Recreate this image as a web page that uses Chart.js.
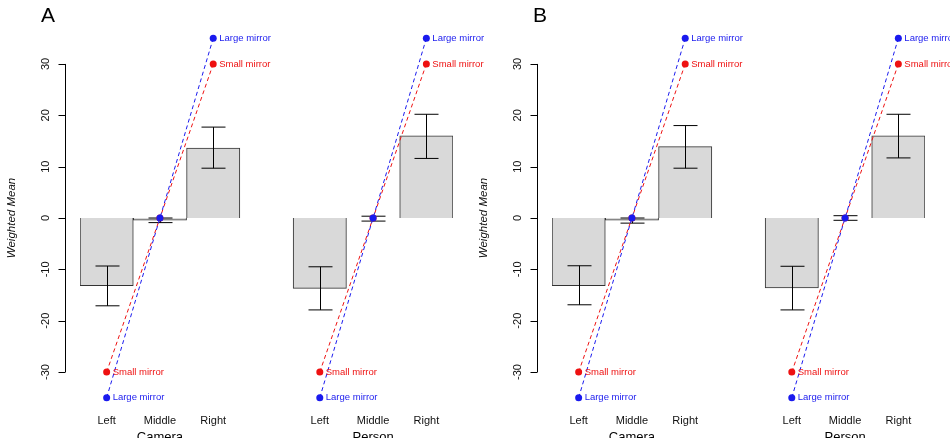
<!DOCTYPE html>
<html>
<head>
<meta charset="utf-8">
<script src="https://cdn.jsdelivr.net/npm/chart.js@4"></script>
<style>
  html, body { margin: 0; padding: 0; background: #fff; }
  #wrap { position: relative; width: 950px; height: 438px; overflow: hidden; }
  .panel { position: absolute; top: 0; height: 438px; }
</style>
</head>
<body>
<div id="wrap">
  <div class="panel" style="left:0;width:500px"><canvas id="chartA" width="500" height="438"></canvas></div>
  <div class="panel" style="left:472px;width:478px"><canvas id="chartB" width="478" height="438"></canvas></div>
</div>
<script>
// data
const categories = ['Left', 'Middle', 'Right'];
const groups = ['Camera', 'Person'];
const yTicks = [-30, -20, -10, 0, 10, 20, 30];

const largeMirror = [-35, 0, 35];
const smallMirror = [-30, 0, 30];

// panel A
const camMeanA = [-13.2, -0.4, 13.6];
const camLowA = [-17.1, -0.9, 9.7];
const camHighA = [-9.35, 0.0, 17.7];
const perMeanA = [-13.7, 0.0, 16.0];
const perLowA = [-17.9, -0.6, 11.6];
const perHighA = [-9.5, 0.35, 20.2];

// panel B
const camMeanB = [-13.2, -0.4, 13.9];
const camLowB = [-16.9, -1.0, 9.7];
const camHighB = [-9.3, 0.0, 18.0];
const perMeanB = [-13.6, 0.0, 16.0];
const perLowB = [-17.9, -0.45, 11.7];
const perHighB = [-9.4, 0.45, 20.2];

const join = (a, b) => [...a, null, ...b];
const font = 'Liberation Sans, Arial, Helvetica, sans-serif';

// R-like extras: error bars, detached y axis line, labels
const rStyle = {
  id: 'rStyle',
  afterDatasetDraw(chart, args, opts) {
    if (args.index !== 0) return;
    const ctx = chart.ctx, x = chart.scales.x, y = chart.scales.y;
    ctx.save();
    ctx.strokeStyle = '#000';
    ctx.lineWidth = 1;
    opts.low.forEach((lo, i) => {
      if (lo == null) return;
      const px = Math.round(x.getPixelForValue(i)) + 0.5;
      const y1 = y.getPixelForValue(lo), y2 = y.getPixelForValue(opts.high[i]);
      ctx.beginPath();
      ctx.moveTo(px, y1); ctx.lineTo(px, y2);
      ctx.moveTo(px - 12, y1); ctx.lineTo(px + 12, y1);
      ctx.moveTo(px - 12, y2); ctx.lineTo(px + 12, y2);
      ctx.stroke();
    });
    ctx.restore();
  },
  afterDraw(chart, args, opts) {
    const ctx = chart.ctx, x = chart.scales.x, y = chart.scales.y;
    ctx.save();
    // axis line
    const ax = Math.round(chart.chartArea.left - 15) + 0.5;
    ctx.strokeStyle = '#000';
    ctx.lineWidth = 1;
    ctx.beginPath();
    ctx.moveTo(ax, y.getPixelForValue(yTicks[0]));
    ctx.lineTo(ax, y.getPixelForValue(yTicks[yTicks.length - 1]));
    yTicks.forEach(t => {
      const py = Math.round(y.getPixelForValue(t)) + 0.5;
      ctx.moveTo(ax, py); ctx.lineTo(ax - 7, py);
    });
    ctx.stroke();

    // group titles
    ctx.fillStyle = '#000';
    ctx.font = '13px ' + font;
    ctx.textAlign = 'center';
    ctx.textBaseline = 'top';
    ctx.fillText(groups[0], x.getPixelForValue(1), 431);
    ctx.fillText(groups[1], x.getPixelForValue(5), 431);

    // panel letter
    ctx.font = '21px ' + font;
    ctx.textAlign = 'left';
    ctx.textBaseline = 'alphabetic';
    ctx.fillText(opts.letter, opts.letterX, 22);

    // point labels
    ctx.font = '9.5px ' + font;
    ctx.textBaseline = 'middle';
    chart.data.datasets.forEach((ds, i) => {
      if (ds.type !== 'line') return;
      const meta = chart.getDatasetMeta(i);
      ds.data.forEach((v, j) => {
        if (v == null || v === 0) return;
        const p = meta.data[j];
        ctx.fillStyle = ds.borderColor;
        ctx.fillText(ds.label, p.x + 6, p.y);
      });
    });
    ctx.restore();
  }
};

function makePanel(id, letter, letterX, rightPad, camMean, camLow, camHigh, perMean, perLow, perHigh) {
  return new Chart(document.getElementById(id), {
    data: {
      labels: [...categories, '', ...categories],
      datasets: [
        {
          type: 'bar',
          label: 'Weighted Mean',
          data: join(camMean, perMean),
          backgroundColor: '#d9d9d9',
          borderColor: '#333',
          borderWidth: 1,
          categoryPercentage: 1,
          barPercentage: 1,
          order: 2
        },
        {
          type: 'line',
          label: 'Small mirror',
          data: join(smallMirror, smallMirror),
          borderColor: '#ee1111',
          backgroundColor: '#ee1111',
          borderWidth: 1,
          borderDash: [4, 3],
          pointRadius: 3.5,
          pointBorderWidth: 0,
          spanGaps: false,
          order: 1
        },
        {
          type: 'line',
          label: 'Large mirror',
          data: join(largeMirror, largeMirror),
          borderColor: '#1a1aee',
          backgroundColor: '#1a1aee',
          borderWidth: 1,
          borderDash: [4, 3],
          pointRadius: 3.5,
          pointBorderWidth: 0,
          spanGaps: false,
          order: 0
        }
      ]
    },
    options: {
      responsive: false,
      animation: false,
      layout: { padding: { left: 0, right: rightPad, top: 28, bottom: 0 } },
      plugins: {
        legend: { display: false },
        tooltip: { enabled: false },
        rStyle: {
          letter, letterX,
          low: join(camLow, perLow),
          high: join(camHigh, perHigh)
        }
      },
      scales: {
        x: {
          type: 'category',
          grid: { display: false, drawTicks: false },
          border: { display: false },
          ticks: { color: '#111', font: { size: 11, family: font }, padding: 6, maxRotation: 0, autoSkip: false },
          afterFit: s => { s.height = 30; s.paddingLeft = 0; s.paddingRight = 0; }
        },
        y: {
          min: -37,
          max: 37,
          grid: { display: false, drawTicks: false },
          border: { display: false },
          afterBuildTicks: s => { s.ticks = yTicks.map(v => ({ value: v })); },
          ticks: {
            color: '#111',
            font: { size: 11, family: font },
            minRotation: 90,
            maxRotation: 90,
            crossAlign: 'center',
            padding: 26
          },
          title: {
            display: true,
            text: 'Weighted Mean',
            color: '#111',
            font: { size: 11.5, style: 'italic', family: font },
            padding: { top: 5, bottom: 0 }
          },
          afterFit: s => { s.width = 80; s.paddingTop = 0; s.paddingBottom = 0; }
        }
      }
    },
    plugins: [rStyle]
  });
}

makePanel('chartA', 'A', 41, 47, camMeanA, camLowA, camHighA, perMeanA, perLowA, perHighA);
makePanel('chartB', 'B', 61, 25, camMeanB, camLowB, camHighB, perMeanB, perLowB, perHighB);
</script>
</body>
</html>
